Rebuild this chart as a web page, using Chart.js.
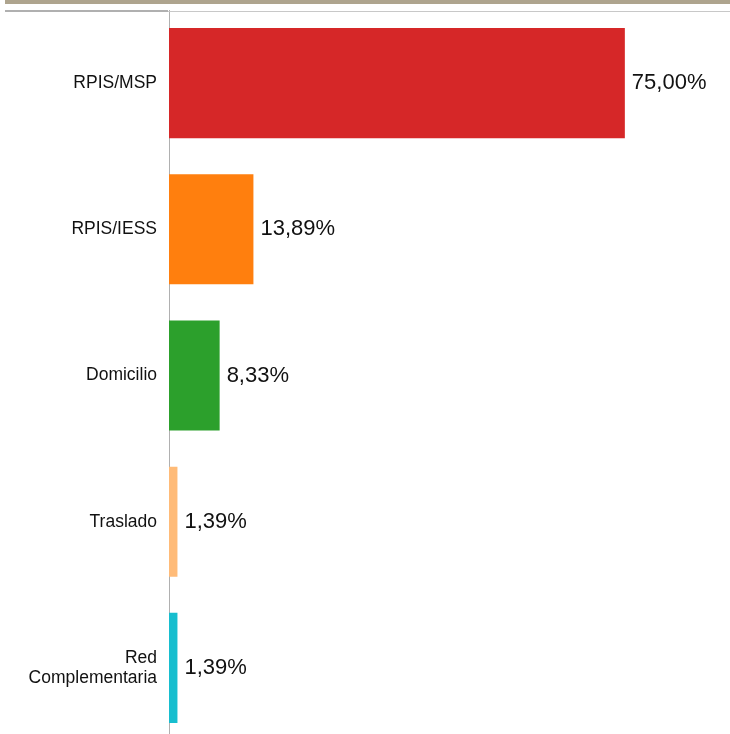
<!DOCTYPE html>
<html>
<head>
<meta charset="utf-8">
<script src="https://cdn.jsdelivr.net/npm/chart.js@4"></script>
<style>
  html, body { margin: 0; padding: 0; background: #fff; overflow: hidden; }
  #wrap { position: relative; width: 730px; height: 734px; }
  #topBand { position: absolute; left: 5px; top: 0; width: 725px; height: 4px; background: #aea48e; }
  #lineLeft { position: absolute; left: 5px; top: 10px; width: 163px; height: 2px; background: #b0b0b0; }
  #lineRight { position: absolute; left: 168px; top: 11px; width: 562px; height: 1px; background: #c8c8c8; }
  canvas { position: absolute; left: 0; top: 0; }
</style>
</head>
<body>
<div id="wrap">
  <canvas id="chart" width="730" height="741"></canvas>
  <div id="topBand"></div>
  <div id="lineLeft"></div>
  <div id="lineRight"></div>
</div>
<script>
const categories = ['RPIS/MSP', 'RPIS/IESS', 'Domicilio', 'Traslado', ['Red', 'Complementaria']];
const values = [75.00, 13.89, 8.33, 1.39, 1.39];
const colors = ['#d62728', '#ff7f0e', '#2ca02c', '#ffbb78', '#17becf'];

const valueLabels = {
    id: 'valueLabels',
    afterDatasetsDraw(chart) {
        const ctx = chart.ctx;
        const meta = chart.getDatasetMeta(0);
        ctx.save();
        ctx.font = '22px "Liberation Sans", Arial, sans-serif';
        ctx.fillStyle = '#111';
        ctx.textAlign = 'left';
        ctx.textBaseline = 'middle';
        meta.data.forEach((bar, i) => {
            const txt = values[i].toFixed(2).replace('.', ',') + '%';
            ctx.fillText(txt, bar.x + 7, bar.y);
        });
        ctx.restore();
    }
};

const ctx = document.getElementById('chart').getContext('2d');
new Chart(ctx, {
    type: 'bar',
    data: {
        labels: categories,
        datasets: [{
            data: values,
            backgroundColor: colors,
            borderWidth: 0,
            categoryPercentage: 1,
            barPercentage: 0.753
        }]
    },
    options: {
        indexAxis: 'y',
        responsive: false,
        animation: false,
        devicePixelRatio: 1,
        layout: { padding: { top: 10, right: 0, bottom: 0, left: 0 } },
        scales: {
            x: { display: false, min: 0, max: 92.3 },
            y: {
                afterFit: s => {
                    s.width = 169;
                    s.paddingTop = 0;
                    s.paddingBottom = 0;
                },
                grid: { display: false },
                border: { display: true, color: '#b0b0b0', width: 1 },
                ticks: {
                    padding: 4,
                    color: '#111',
                    font: { family: '"Liberation Sans", Arial, sans-serif', size: 17.5, lineHeight: 1.15 }
                }
            }
        },
        plugins: {
            legend: { display: false },
            tooltip: { enabled: false }
        }
    },
    plugins: [valueLabels]
});
</script>
</body>
</html>
